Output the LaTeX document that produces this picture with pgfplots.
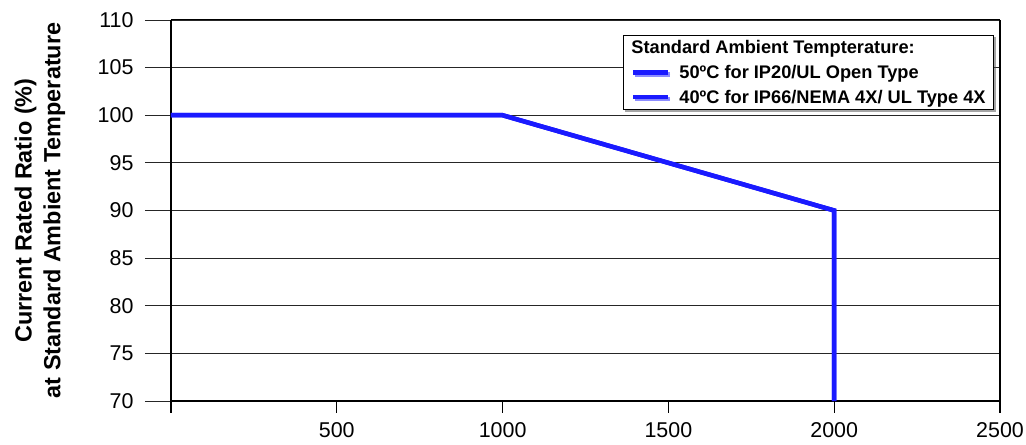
\documentclass[border=0pt]{standalone}
\usepackage{fontspec}
\setmainfont{Liberation Sans}
\usepackage{pgfplots}
\pgfplotsset{compat=1.18}
\usetikzlibrary{shadows}
\definecolor{lineblue}{RGB}{26,26,255}

\begin{document}
\begin{tikzpicture}[x=1bp,y=1bp]
\begin{axis}[
  name=ax,
  at={(0,0)}, anchor=south west,
  scale only axis,
  width=829bp, height=381bp,
  xmin=0, xmax=2500, ymin=70, ymax=110,
  xtick={0,500,1000,1500,2000,2500},
  xticklabels={,500,1000,1500,2000,2500},
  ytick={70,75,...,110},
  ymajorgrids,
  major grid style={black!85, line width=0.9bp},
  axis x line*=bottom, axis y line*=left,
  axis line style={line width=1.8bp, -},
  xtick align=outside, ytick align=outside,
  major tick length=26bp,
  x tick style={draw=none},
  y tick style={line width=0.9bp, black!85},
  tick label style={font=\fontsize{21.5}{24}\selectfont},
  yticklabel style={xshift=-8bp},
  xticklabel style={yshift=8bp},
  /pgf/number format/assume math mode=true,
  /pgf/number format/1000 sep={},
  ylabel style={font=\bfseries\fontsize{23.5}{29}\selectfont, align=center,
    at={([xshift=-131bp]axis description cs:0,0.5)}, anchor=center},
  ylabel={Current Rated Ratio (\%)\\at Standard Ambient Temperature},
  legend cell align=left,
  legend style={at={(0.9928,0.9606)}, anchor=north east,
    draw=black, fill=white, line width=0.8bp,
    font=\bfseries\fontsize{18.3}{20}\selectfont,
    nodes={inner sep=0bp},
    row sep=10bp, column sep=9bp, inner xsep=8bp, inner ysep=5bp,
    drop shadow={shadow xshift=2bp, shadow yshift=-2bp, fill=black!70}},
  legend image code/.code={\draw[#1] (0bp,0bp) -- (35bp,0bp);},
  clip=false,
]
\addlegendimage{empty legend}
\addlegendentry{\hspace*{-48bp}Standard Ambient Tempterature:}
\addplot[lineblue, line width=4.5bp, line join=miter] coordinates {
  (0,100) (1000,100) (2000,90) (2000,70)
};
\addlegendentry{50ºC for IP20/UL Open Type}
\addplot[lineblue, line width=4.5bp, line join=miter] coordinates {
  (0,100) (1000,100) (2000,90) (2000,70)
};
\addlegendentry{40ºC for IP66/NEMA 4X/ UL Type 4X}
\pgfplotsinvokeforeach{0,500,1000,1500,2000,2500}{
  \draw[line width=1.4bp] (axis cs:#1,70) -- ++(0bp,-12bp);
}
\draw[line width=1.8bp] (rel axis cs:1,0) -- (rel axis cs:1,1);
\draw[line width=1bp] (rel axis cs:0,1) -- (rel axis cs:1,1);
\end{axis}
\pgfresetboundingbox
\path (-171bp,-44bp) rectangle (855bp,401bp);
\end{tikzpicture}
\end{document}
